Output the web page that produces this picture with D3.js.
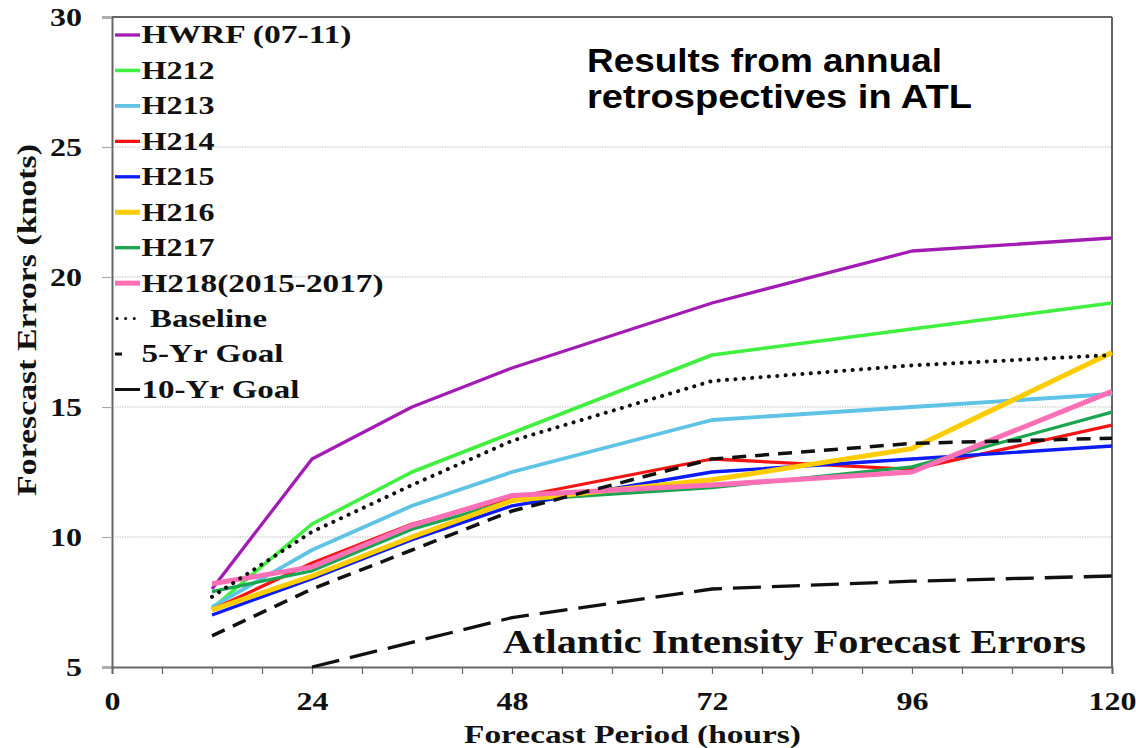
<!DOCTYPE html>
<html>
<head>
<meta charset="utf-8">
<script src="https://cdn.jsdelivr.net/npm/d3@7"></script>
<style>
  html, body { margin: 0; padding: 0; background: #fff; }
  svg { display: block; }
</style>
</head>
<body>
<svg id="chart" width="1136" height="748"></svg>
<script>
// ---------- data ----------
const hours = [12, 24, 36, 48, 72, 96, 120];
const hwrf   = [8.0, 13.0, 15.0, 16.5, 19.0, 21.0, 21.5];
const h212   = [7.25, 10.5, 12.5, 14.0, 17.0, 18.0, 19.0];
const h213   = [7.3, 9.5, 11.2, 12.5, 14.5, 15.0, 15.5];
const h214   = [7.2, 9.0, 10.5, 11.5, 13.0, 12.6, 14.3];
const h215   = [7.0, 8.4, 9.9, 11.2, 12.5, 13.0, 13.5];
const h216   = [7.2, 8.5, 10.0, 11.4, 12.2, 13.4, 17.1];
const h217   = [7.9, 8.7, 10.3, 11.4, 11.9, 12.7, 14.8];
const h218   = [8.2, 8.85, 10.45, 11.6, 12.0, 12.5, 15.6];
const baseline = [7.7, 10.2, 12.0, 13.7, 16.0, 16.6, 17.0];
const goal5  = [6.2, 8.0, 9.5, 11.0, 13.0, 13.6, 13.8];
const goal10Hours = [24, 48, 72, 96, 120];
const goal10 = [5.0, 6.9, 8.0, 8.3, 8.5];

const seriesNames = ["HWRF (07-11)", "H212", "H213", "H214", "H215", "H216", "H217", "H218(2015-2017)", "Baseline", "5-Yr Goal", "10-Yr Goal"];
const xTickLabels = [0, 24, 48, 72, 96, 120];
const yTickLabels = [5, 10, 15, 20, 25, 30];

// ---------- styles ----------
const styles = [
  {color: "#a21cb4", width: 3.3},
  {color: "#3ff03f", width: 3.6},
  {color: "#5ec3e4", width: 3.8},
  {color: "#f51414", width: 3.3},
  {color: "#0d1cf5", width: 3.3},
  {color: "#ffcc00", width: 5},
  {color: "#1ca550", width: 3.3},
  {color: "#ff6fb6", width: 5},
  {color: "#111", width: 4, dash: "0.1,8.3", cap: "round"},
  {color: "#111", width: 3.5, dash: "14,9"},
  {color: "#111", width: 3.3, dash: "28,11"}
];

const series = [
  {x: hours, y: hwrf}, {x: hours, y: h212}, {x: hours, y: h213}, {x: hours, y: h214},
  {x: hours, y: h215}, {x: hours, y: h216}, {x: hours, y: h217}, {x: hours, y: h218},
  {x: hours, y: baseline}, {x: hours, y: goal5}, {x: goal10Hours, y: goal10}
];

const svg = d3.select("#chart");
const L = 112, R = 1112, T = 17, B = 667;
const x = d3.scaleLinear().domain([0, 120]).range([L, R]);
const y = d3.scaleLinear().domain([5, 30]).range([B, T]);

const serif = "'Liberation Serif', 'Times New Roman', serif";
const sans = "'Liberation Sans', Arial, sans-serif";

// gridlines
svg.append("g").selectAll("line")
  .data([10, 15, 20, 25]).join("line")
  .attr("x1", L).attr("x2", R)
  .attr("y1", d => y(d)).attr("y2", d => y(d))
  .attr("stroke", "#c4c4c4").attr("stroke-width", 1.2)
  .attr("stroke-dasharray", "1.5,1");

// y axis
const yAxis = svg.append("g").attr("transform", `translate(${L},0)`)
  .call(d3.axisLeft(y).tickValues(yTickLabels).tickSize(10).tickPadding(20).tickFormat(d3.format("d")));
yAxis.select(".domain").attr("stroke", "#666").attr("stroke-width", 2);
yAxis.selectAll(".tick line").attr("stroke", "#aaa").attr("stroke-width", 1.2);
yAxis.selectAll(".tick text")
  .attr("font-family", serif).attr("font-weight", "bold").attr("font-size", 26)
  .attr("fill", "#111").attr("dy", "0.34em")
  .attr("textLength", d => String(d).length * 16).attr("lengthAdjust", "spacingAndGlyphs");

// x axis
const xAxis = svg.append("g").attr("transform", `translate(0,${B})`)
  .call(d3.axisBottom(x).tickValues(d3.range(0, 121, 6)).tickSize(7)
    .tickFormat(d => xTickLabels.includes(d) ? String(d) : ""));
xAxis.select(".domain").attr("stroke", "#666").attr("stroke-width", 2);
xAxis.selectAll(".tick line").attr("stroke", "#666").attr("stroke-width", 1.2);
xAxis.selectAll(".tick text")
  .attr("font-family", serif).attr("font-weight", "bold").attr("font-size", 26)
  .attr("fill", "#111").attr("y", 43).attr("dy", 0)
  .filter(d => xTickLabels.includes(d))
  .attr("textLength", d => String(d).length * 16).attr("lengthAdjust", "spacingAndGlyphs");

// frame top and right
svg.append("line").attr("x1", L).attr("x2", R).attr("y1", T).attr("y2", T)
  .attr("stroke", "#666").attr("stroke-width", 2);
svg.append("line").attr("x1", R).attr("x2", R).attr("y1", T).attr("y2", B)
  .attr("stroke", "#666").attr("stroke-width", 2);

// lines
const lineGen = d3.line().x(d => x(d[0])).y(d => y(d[1]));
const drawOrder = [0, 1, 2, 3, 4, 6, 5, 7, 8, 9, 10];
drawOrder.forEach(i => {
  const s = series[i], st = styles[i];
  const pts = s.x.map((h, k) => [h, s.y[k]]);
  svg.append("path").datum(pts)
    .attr("d", lineGen)
    .attr("fill", "none")
    .attr("stroke", st.color)
    .attr("stroke-width", st.width)
    .attr("stroke-linejoin", "round")
    .attr("stroke-linecap", st.cap || "butt")
    .attr("stroke-dasharray", st.dash || null);
});

// legend
const legendTextLen = [210, 73, 73, 73, 73, 73, 73, 242, 117, 142, 158];
const leg = svg.append("g");
seriesNames.forEach((name, i) => {
  const cy = 35 + i * 35.45;
  const st = styles[i];
  let x1 = 115, x2 = 140, tx = 141.5;
  if (i === 8) { x1 = 117; x2 = 135; tx = 150; }
  if (i === 9) { x1 = 115; x2 = 122; tx = 141.5; }
  const ln = leg.append("line")
    .attr("x1", x1).attr("x2", x2).attr("y1", cy).attr("y2", cy)
    .attr("stroke", st.color).attr("stroke-width", i >= 8 ? 3 : st.width);
  if (i === 8) ln.attr("stroke-dasharray", "0.1,8.5").attr("stroke-linecap", "round").attr("stroke-width", 3);
  leg.append("text")
    .attr("x", tx).attr("y", cy + 8.4)
    .attr("font-family", serif).attr("font-weight", "bold").attr("font-size", 25)
    .attr("fill", "#111")
    .attr("textLength", legendTextLen[i]).attr("lengthAdjust", "spacingAndGlyphs")
    .text(name);
});

// annotations
svg.append("text").attr("x", 587).attr("y", 71.7)
  .attr("font-family", sans).attr("font-weight", "bold").attr("font-size", 34)
  .attr("fill", "#000").attr("textLength", 355).attr("lengthAdjust", "spacingAndGlyphs")
  .text("Results from annual");
svg.append("text").attr("x", 587).attr("y", 108.3)
  .attr("font-family", sans).attr("font-weight", "bold").attr("font-size", 34)
  .attr("fill", "#000").attr("textLength", 385).attr("lengthAdjust", "spacingAndGlyphs")
  .text("retrospectives in ATL");
svg.append("text").attr("x", 503).attr("y", 652.7)
  .attr("font-family", serif).attr("font-weight", "bold").attr("font-size", 34)
  .attr("fill", "#111").attr("textLength", 583).attr("lengthAdjust", "spacingAndGlyphs")
  .text("Atlantic Intensity Forecast Errors");

// axis titles
svg.append("text").attr("x", 632.5).attr("y", 743)
  .attr("text-anchor", "middle")
  .attr("font-family", serif).attr("font-weight", "bold").attr("font-size", 25)
  .attr("fill", "#111").attr("textLength", 337).attr("lengthAdjust", "spacingAndGlyphs")
  .text("Forecast Period (hours)");
svg.append("text").attr("transform", "translate(36,320) rotate(-90)")
  .attr("text-anchor", "middle")
  .attr("font-family", serif).attr("font-weight", "bold").attr("font-size", 27)
  .attr("fill", "#111").attr("textLength", 352).attr("lengthAdjust", "spacingAndGlyphs")
  .text("Forescast Errors (knots)");
</script>
</body>
</html>
